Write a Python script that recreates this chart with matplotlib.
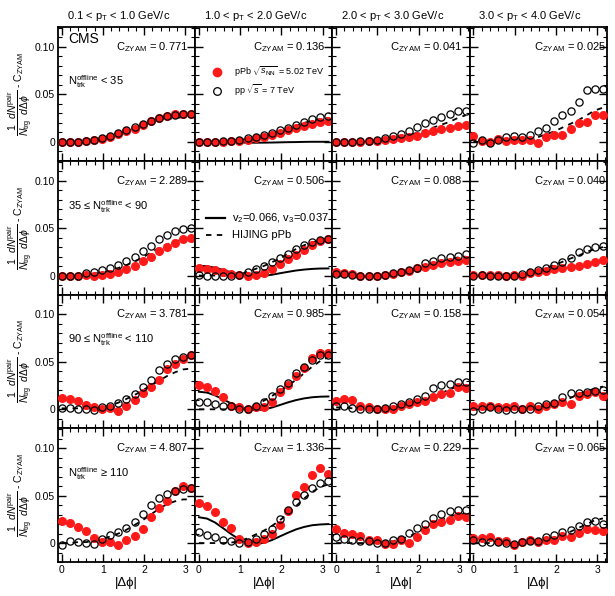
import numpy as np
import matplotlib
matplotlib.use("Agg")
import matplotlib.pyplot as plt
from matplotlib.ticker import FixedLocator, MultipleLocator, FixedFormatter

plt.rcParams['font.family'] = ['Liberation Sans', 'DejaVu Sans']
plt.rcParams['mathtext.fontset'] = 'custom'
plt.rcParams['mathtext.rm'] = 'Liberation Sans'
plt.rcParams['mathtext.it'] = 'Liberation Sans:italic'
plt.rcParams['mathtext.sf'] = 'Liberation Sans'

# bin centres in |dphi|
dphi = [0.0, 0.196, 0.393, 0.589, 0.785, 0.982, 1.178, 1.374, 1.571,
        1.767, 1.963, 2.160, 2.356, 2.553, 2.749, 2.945, 3.142]

pt_bins = ["0.1 < p$_{\\rm T}$ < 1.0 GeV/c", "1.0 < p$_{\\rm T}$ < 2.0 GeV/c",
           "2.0 < p$_{\\rm T}$ < 3.0 GeV/c", "3.0 < p$_{\\rm T}$ < 4.0 GeV/c"]
mult_bins = ["N$_{\\rm trk}^{\\rm offline}$ < 35",
             "35 ≤ N$_{\\rm trk}^{\\rm offline}$ < 90",
             "90 ≤ N$_{\\rm trk}^{\\rm offline}$ < 110",
             "N$_{\\rm trk}^{\\rm offline}$ ≥ 110"]
czyam = [["0.771", "0.136", "0.041", "0.025"],
         ["2.289", "0.506", "0.088", "0.040"],
         ["3.781", "0.985", "0.158", "0.054"],
         ["4.807", "1.336", "0.229", "0.065"]]

# pPb (filled red), one list per pT column
ppb_1 = [[0, 0, 0, 0.0005, 0.0015, 0.003, 0.0055, 0.008, 0.011, 0.014, 0.018, 0.022, 0.025, 0.027, 0.029, 0.029, 0.029],
         [0, 0, 0, 0, 0.0004, 0.001, 0.002, 0.0035, 0.005, 0.007, 0.0095, 0.012, 0.0145, 0.017, 0.019, 0.021, 0.0215],
         [0, 0, 0, 0, 0.001, 0.001, 0.002, 0.003, 0.0045, 0.0055, 0.0066, 0.0094, 0.011, 0.013, 0.0146, 0.0163, 0.018],
         [0.006, 0.0007, 0, 0.003, 0.0007, 0.0024, 0.0024, 0.0024, -0.0017, 0.005, 0.0073, 0.0073, 0.0135, 0.0198, 0.021, 0.028, 0.028]]
ppb_2 = [[0, 0, 0, 0.001, -0.0007, 0.0007, 0.002, 0.004, 0.007, 0.0105, 0.015, 0.020, 0.0255, 0.030, 0.034, 0.038, 0.040],
         [0.008, 0.007, 0.0063, 0.0035, 0.0015, 0.0003, 0, 0.0005, 0.003, 0.007, 0.012, 0.017, 0.022, 0.027, 0.032, 0.036, 0.038],
         [0.0034, 0.0024, 0.0014, 0, 0, 0, 0.0007, 0.0014, 0.0034, 0.005, 0.0076, 0.0093, 0.011, 0.0128, 0.0145, 0.015, 0.016],
         [0.0007, 0.0007, 0.0007, 0.0007, 0, 0.0007, 0, 0.0024, 0.0034, 0.005, 0.0066, 0.0076, 0.0093, 0.0103, 0.0117, 0.0145, 0.016]]
ppb_3 = [[0.0123, 0.0106, 0.0085, 0.0042, 0.0025, 0.0007, 0.0018, -0.002, 0.003, 0.0095, 0.017, 0.023, 0.0306, 0.042, 0.0475, 0.0535, 0.0577],
         [0.0255, 0.0238, 0.0194, 0.0126, 0.004, 0.0024, 0, 0.0024, 0.0024, 0.0075, 0.018, 0.026, 0.035, 0.044, 0.054, 0.059, 0.059],
         [0.0092, 0.011, 0.01, 0.004, 0.0024, 0.0007, 0, 0, 0.004, 0.0058, 0.0082, 0.0092, 0.0126, 0.016, 0.0177, 0.0238, 0.0228],
         [0.004, 0.004, 0.0034, 0.0024, 0.0024, 0.0034, 0, 0.0034, 0, 0.004, 0.0058, 0.0082, 0.006, 0.0136, 0.016, 0.018, 0.0136]]
ppb_4 = [[0.0234, 0.021, 0.0164, 0.0122, 0.0052, 0.001, 0.001, -0.0024, 0.0035, 0.007, 0.015, 0.027, 0.0374, 0.0444, 0.0549, 0.0605, 0.0577],
         [0.0427, 0.0395, 0.0325, 0.0227, 0.0157, 0.0045, 0, 0.001, 0.0045, 0.0095, 0.019, 0.034, 0.0507, 0.059, 0.072, 0.079, 0.073],
         [0.0147, 0.011, 0.0094, 0.0077, 0.0035, 0.0035, -0.001, -0.001, 0.0035, 0, 0.006, 0.0133, 0.02, 0.0227, 0.0238, 0.028, 0.027],
         [0.0052, 0.0052, 0.006, 0.0017, 0.0024, -0.0024, 0.0007, 0.0028, 0.001, 0.0035, 0.0028, 0.007, 0.0063, 0.011, 0.015, 0.014, 0.0122]]

# pp 7 TeV (open circles)
pp_1 = [[0, 0, 0, 0.0008, 0.002, 0.004, 0.0065, 0.0095, 0.012, 0.016, 0.019, 0.022, 0.025, 0.027, 0.028, 0.029, 0.029],
        [0, 0, 0, 0.0003, 0.001, 0.002, 0.0035, 0.005, 0.007, 0.0095, 0.012, 0.015, 0.018, 0.021, 0.024, 0.026, 0.027],
        [0, 0, 0, 0.0003, 0.001, 0.002, 0.004, 0.0065, 0.0087, 0.0118, 0.0155, 0.0195, 0.023, 0.0265, 0.0295, 0.032, 0.0326],
        [-0.0017, 0.0024, -0.0017, 0.0024, 0.005, 0.0066, 0.005, 0.0076, 0.011, 0.015, 0.0215, 0.028, 0.0326, 0.042, 0.055, 0.056, 0.056]]
pp_2 = [[0, 0, 0, 0.003, 0.004, 0.0056, 0.008, 0.0115, 0.015, 0.020, 0.0255, 0.031, 0.038, 0.043, 0.0465, 0.049, 0.050],
        [0.001, 0, 0, 0, 0, 0.001, 0.004, 0.007, 0.010, 0.014, 0.018, 0.023, 0.028, 0.032, 0.035, 0.037, 0.038],
        [0.0014, 0.0014, 0.0007, 0, 0, 0, 0.0007, 0.0024, 0.0034, 0.006, 0.008, 0.0128, 0.015, 0.018, 0.0197, 0.021, 0.023],
        [0, 0.0007, 0, 0, 0, 0, 0.0014, 0.0034, 0.006, 0.008, 0.011, 0.0145, 0.018, 0.025, 0.028, 0.030, 0.031]]
pp_3 = [[0.001, 0.001, 0.0007, 0.0005, -0.001, 0.0025, 0.004, 0.007, 0.011, 0.016, 0.023, 0.031, 0.041, 0.048, 0.053, 0.055, 0.057],
        [0.0082, 0.0082, 0.0058, 0.004, 0.0034, 0, 0, 0.0034, 0.0075, 0.0143, 0.021, 0.028, 0.038, 0.045, 0.0517, 0.057, 0.057],
        [0.004, 0.004, 0.0014, 0.0007, 0, 0, 0.0014, 0.0034, 0.0058, 0.0082, 0.011, 0.0143, 0.0228, 0.026, 0.027, 0.0286, 0.0286],
        [-0.002, 0.0007, 0.0024, 0, -0.001, 0, 0, 0.0007, 0.004, 0.0058, 0.007, 0.0126, 0.0177, 0.017, 0.018, 0.019, 0.02]]
pp_4 = [[-0.0025, 0.0025, 0.0015, 0.0005, -0.001, 0.004, 0.009, 0.012, 0.016, 0.022, 0.031, 0.04, 0.047, 0.052, 0.055, 0.057, 0.058],
        [0.0115, 0.0087, 0.006, 0.0032, 0.0017, 0, 0.001, 0.004, 0.0095, 0.015, 0.025, 0.035, 0.043, 0.051, 0.058, 0.063, 0.065],
        [0.006, 0.0045, 0.0035, 0.0017, 0.0017, 0, 0, 0.0028, 0.0045, 0.0105, 0.0157, 0.02, 0.026, 0.0304, 0.034, 0.035, 0.035],
        [0.0028, 0.001, 0.001, 0.001, 0, -0.001, 0.001, 0.0024, 0.0024, 0.006, 0.0087, 0.012, 0.014, 0.018, 0.022, 0.0234, 0.02]]

# HIJING pPb (dashed)
hij_1 = [[0, 0, 0, 0.0008, 0.002, 0.004, 0.0065, 0.009, 0.012, 0.015, 0.018, 0.021, 0.023, 0.024, 0.025, 0.026, 0.026],
         [0, 0, 0, 0.0003, 0.001, 0.002, 0.003, 0.0045, 0.0065, 0.009, 0.011, 0.014, 0.017, 0.02, 0.022, 0.024, 0.025],
         [0, 0, 0, 0, 0.0005, 0.001, 0.002, 0.0035, 0.005, 0.007, 0.0095, 0.012, 0.015, 0.018, 0.021, 0.025, 0.028],
         [0, 0, 0, 0, 0, 0.001, 0.002, 0.003, 0.005, 0.008, 0.011, 0.015, 0.019, 0.023, 0.028, 0.033, 0.036]]
hij_2 = [[0, 0, 0, 0.001, 0.002, 0.003, 0.005, 0.008, 0.011, 0.015, 0.019, 0.024, 0.029, 0.033, 0.036, 0.038, 0.039],
         [0, 0, 0, 0, 0, 0.001, 0.004, 0.007, 0.010, 0.014, 0.018, 0.023, 0.028, 0.032, 0.035, 0.037, 0.038],
         [0, 0, 0, 0, 0, 0, 0.0005, 0.0015, 0.003, 0.005, 0.0075, 0.01, 0.0125, 0.015, 0.017, 0.019, 0.02],
         [0, 0, 0, 0, 0, 0, 0.001, 0.003, 0.005, 0.008, 0.011, 0.0145, 0.018, 0.021, 0.025, 0.028, 0.03]]
hij_3 = [[0.001, 0.001, 0.001, 0.001, 0.001, 0.002, 0.004, 0.007, 0.011, 0.015, 0.02, 0.025, 0.03, 0.035, 0.039, 0.042, 0.043],
         [0, 0, 0, 0, 0, 0.0005, 0.002, 0.005, 0.009, 0.014, 0.019, 0.025, 0.031, 0.038, 0.045, 0.051, 0.055],
         [0.002, 0.002, 0.001, 0.0005, 0, 0, 0, 0.001, 0.002, 0.0035, 0.006, 0.009, 0.013, 0.017, 0.021, 0.024, 0.025],
         [0, 0, 0, 0, 0, 0, 0, 0.001, 0.002, 0.004, 0.006, 0.009, 0.012, 0.016, 0.019, 0.022, 0.024]]
hij_4 = [[0, 0, 0.001, 0.001, 0.002, 0.004, 0.007, 0.01, 0.014, 0.019, 0.024, 0.03, 0.036, 0.041, 0.044, 0.046, 0.046],
         [0, 0, 0, 0, 0.0005, 0.002, 0.005, 0.009, 0.013, 0.018, 0.024, 0.031, 0.039, 0.047, 0.054, 0.059, 0.062],
         [0, 0, 0, 0, 0, 0.0005, 0.001, 0.002, 0.004, 0.007, 0.011, 0.015, 0.02, 0.024, 0.028, 0.03, 0.031],
         [0, 0, 0, 0, 0, 0, 0.0005, 0.001, 0.002, 0.004, 0.006, 0.009, 0.012, 0.016, 0.02, 0.024, 0.026]]

# v2=0.066, v3=0.037 curve (only in the 1-2 GeV/c column)
vn_curve = [[0.0003, 0.0003, 0.0001, -0.0002, -0.0005, -0.0008, -0.0009, -0.001, -0.0009, -0.0008, -0.0006, -0.0004, -0.0003, -0.0001, 0, 0, 0],
            [0.0104, 0.0098, 0.0082, 0.0058, 0.0033, 0.0011, -0.0003, -0.0008, -0.0003, 0.0008, 0.0024, 0.0039, 0.0053, 0.0063, 0.007, 0.0074, 0.0075],
            [0.0185, 0.0176, 0.0146, 0.0105, 0.0061, 0.0023, -0.0002, -0.001, -0.0002, 0.0018, 0.0045, 0.0073, 0.0097, 0.0115, 0.0127, 0.0133, 0.0135],
            [0.0272, 0.0258, 0.0216, 0.0156, 0.0093, 0.0038, 0.0002, -0.001, 0.0002, 0.0031, 0.007, 0.0109, 0.0144, 0.017, 0.0188, 0.0196, 0.020]]

ppb_all = [ppb_1, ppb_2, ppb_3, ppb_4]
pp_all = [pp_1, pp_2, pp_3, pp_4]
hij_all = [hij_1, hij_2, hij_3, hij_4]

fig, axes = plt.subplots(4, 4, figsize=(6.15, 5.96), dpi=100, sharex=True, sharey=True,
                         gridspec_kw=dict(left=0.0943, right=0.987, top=0.9547, bottom=0.057,
                                          wspace=0, hspace=0))

ylab = r"$\dfrac{1}{N_{\rm trg}}\dfrac{dN^{\rm pair}}{d\Delta\phi}$ - C$_{\rm ZYAM}$"

for r in range(4):
    for c in range(4):
        ax = axes[r, c]
        ax.plot(dphi, hij_all[r][c], color='black', lw=1.3, ls=(0, (3, 3)), zorder=2)
        if c == 1:
            ax.plot(dphi, vn_curve[r], color='black', lw=1.4, zorder=2)
        ax.plot(dphi, ppb_all[r][c], 'o', color='#ff1a1a', ms=5.5, mec='#ff1a1a', zorder=3)
        ax.plot(dphi, pp_all[r][c], 'o', mfc='none', mec='black', mew=0.9, ms=5.2, zorder=4)

        ax.set_xlim(-0.09, 3.24)
        ax.set_ylim(-0.02, 0.121)
        ax.xaxis.set_major_locator(FixedLocator([0, 1, 2, 3]))
        ax.xaxis.set_minor_locator(MultipleLocator(0.2))
        ax.yaxis.set_major_locator(FixedLocator([0, 0.05, 0.10]))
        ax.yaxis.set_major_formatter(FixedFormatter(["0", "0.05", "0.10"]))
        ax.yaxis.set_minor_locator(MultipleLocator(0.01))
        ax.tick_params(which='both', direction='in', top=True, right=True, labelsize=7.5, pad=2)
        ax.tick_params(which='major', length=6, width=1)
        ax.tick_params(which='minor', length=3, width=0.8)
        for s in ax.spines.values():
            s.set_linewidth(1.3)

        cx = 0.47 if c == 3 else 0.42
        ax.text(cx, 0.85, "C$_{\\rm ZYAM}$ = " + czyam[r][c], transform=ax.transAxes,
                fontsize=8, va='center', ha='left')

        if c == 0:
            ax.set_ylabel(ylab, fontsize=7.5)
            ax.yaxis.set_label_coords(-0.165, 0.5)
            my = 0.59 if r == 0 else 0.66
            ax.text(0.075, my, mult_bins[r], transform=ax.transAxes, fontsize=8, va='center')
        if r == 3:
            ax.set_xlabel("|Δϕ|", fontsize=9.5)
            ax.xaxis.set_label_coords(0.5, -0.115)
        if r == 0:
            ax.set_title(pt_bins[c], fontsize=8, pad=6, x=0.44)

axes[0, 0].text(0.075, 0.91, "CMS", transform=axes[0, 0].transAxes, fontsize=10, va='center')

# legends
ax = axes[0, 1]
ax.plot([0.16], [0.66], 'o', color='#ff1a1a', ms=6, transform=ax.transAxes, clip_on=False)
ax.text(0.28, 0.66, r"pPb $\sqrt{s_{\rm NN}}$ = 5.02 TeV", transform=ax.transAxes, fontsize=6.5, va='center')
ax.plot([0.16], [0.524], 'o', mfc='none', mec='black', mew=0.9, ms=5.5, transform=ax.transAxes, clip_on=False)
ax.text(0.28, 0.524, r"pp $\sqrt{s}$ = 7 TeV", transform=ax.transAxes, fontsize=6.5, va='center')

ax = axes[1, 1]
ax.plot([0.08, 0.22], [0.57, 0.57], color='black', lw=1.6, transform=ax.transAxes)
ax.text(0.27, 0.57, "v$_2$=0.066, v$_3$=0.037", transform=ax.transAxes, fontsize=8, va='center')
ax.plot([0.08, 0.22], [0.447, 0.447], color='black', lw=1.3, ls=(0, (3, 3)), transform=ax.transAxes)
ax.text(0.27, 0.447, "HIJING pPb", transform=ax.transAxes, fontsize=8, va='center')

fig.savefig("out.png", dpi=100)
